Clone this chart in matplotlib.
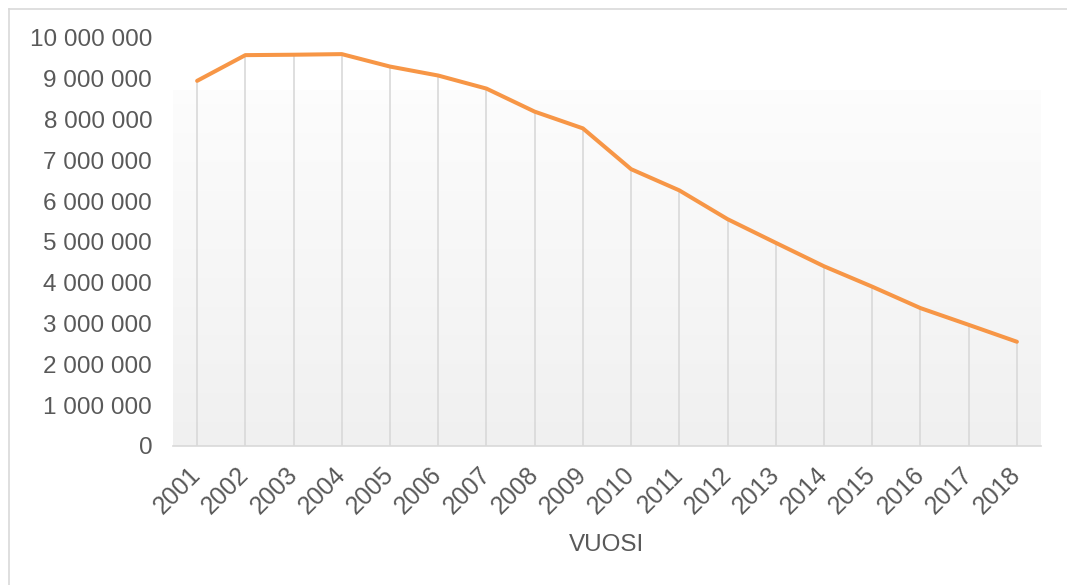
import matplotlib
matplotlib.use("Agg")
import matplotlib.pyplot as plt
import numpy as np
from matplotlib.lines import Line2D
from matplotlib.ticker import FuncFormatter

years = ["2001", "2002", "2003", "2004", "2005", "2006", "2007", "2008", "2009",
         "2010", "2011", "2012", "2013", "2014", "2015", "2016", "2017", "2018"]
values = [8950000, 9580000, 9590000, 9605000, 9300000, 9080000, 8760000, 8195000,
          7785000, 6785000, 6265000, 5560000, 4980000, 4405000, 3905000, 3380000,
          2970000, 2555000]
x_label = "VUOSI"

plt.rcParams['font.family'] = ['Liberation Sans', 'DejaVu Sans']

W, H = 1067, 585
fig = plt.figure(figsize=(W / 100, H / 100), dpi=100)
fig.patch.set_facecolor('white')

left, right, top, bottom = 173, 1041, 38, 446
ax = fig.add_axes([left / W, 1 - bottom / H, (right - left) / W, (bottom - top) / H])
ax.set_facecolor('white')

x = np.arange(len(years))
ax.set_xlim(-0.5, len(years) - 0.5)
ax.set_ylim(0, 10000000)

# gradient background of plot area
grad_top = (bottom - 90) / (bottom - top)
grad = np.linspace(0.99, 0.942, 256).reshape(-1, 1)
ax.imshow(np.dstack([grad, grad, grad]), extent=[0, 1, 0, grad_top],
          transform=ax.transAxes, aspect='auto', zorder=0, interpolation='bilinear')

# drop lines
ax.vlines(x, 0, values, colors='#d9d9d9', linewidth=1.2, zorder=1)

ax.plot(x, values, color='#f79646', linewidth=2.9, solid_capstyle='round',
        solid_joinstyle='round', zorder=3)

ax.set_yticks(np.arange(0, 10000001, 1000000))
ax.yaxis.set_major_formatter(FuncFormatter(lambda v, p: f"{int(v):,}".replace(",", " ")))
ax.set_xticks(x)
ax.set_xticklabels(years, rotation=45, ha='right', va='center', rotation_mode='anchor')

ax.tick_params(axis='y', length=0, pad=15, labelsize=17.5, labelcolor='#595959')
ax.tick_params(axis='x', length=0, pad=18, labelsize=17.8, labelcolor='#595959')

for s in ['left', 'right', 'top']:
    ax.spines[s].set_visible(False)
ax.spines['bottom'].set_color('#d9d9d9')
ax.spines['bottom'].set_linewidth(1.2)
ax.spines['bottom'].set_zorder(2)

fig.text(607 / W, 1 - 545 / H, x_label, ha='center', va='center',
         fontsize=17.5, color='#595959')

# outer chart border (cropped on right and bottom)
fig.add_artist(Line2D([9 / W, 1.0], [1 - 8.5 / H, 1 - 8.5 / H], color='#d9d9d9', linewidth=1.2,
                      transform=fig.transFigure))
fig.add_artist(Line2D([9 / W, 9 / W], [0, 1 - 8.5 / H], color='#d9d9d9', linewidth=1.2,
                      transform=fig.transFigure))

fig.savefig('out.png', dpi=100, facecolor='white')
